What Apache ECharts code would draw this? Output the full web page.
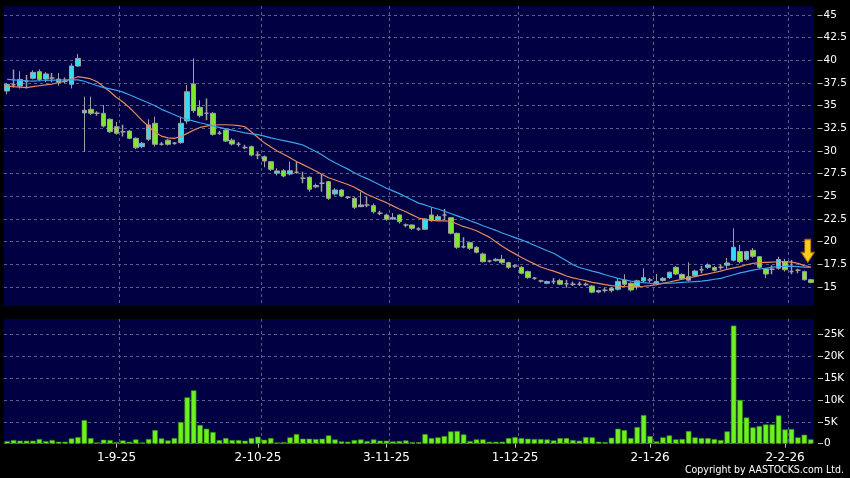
<!DOCTYPE html>
<html>
<head>
<meta charset="utf-8">
<script src="https://cdn.jsdelivr.net/npm/echarts@6/dist/echarts.min.js"></script>
<style>
html, body { margin: 0; padding: 0; background: #000; }
#chart { width: 850px; height: 478px; }
</style>
</head>
<body>
<div id="chart"></div>
<script>
// trading days, d-m-yy
const dates = [
  '7-8-25','8-8-25','11-8-25','12-8-25','13-8-25','14-8-25','15-8-25','18-8-25','19-8-25','20-8-25',
  '21-8-25','22-8-25','25-8-25','26-8-25','27-8-25','28-8-25','29-8-25',
  '1-9-25','2-9-25','3-9-25','4-9-25','5-9-25','8-9-25','9-9-25','10-9-25','11-9-25','12-9-25',
  '15-9-25','16-9-25','17-9-25','18-9-25','19-9-25','22-9-25','23-9-25','24-9-25','25-9-25','26-9-25',
  '29-9-25','30-9-25',
  '2-10-25','3-10-25','6-10-25','8-10-25','9-10-25','10-10-25','13-10-25','14-10-25','15-10-25','16-10-25',
  '17-10-25','20-10-25','21-10-25','22-10-25','23-10-25','24-10-25','27-10-25','28-10-25','30-10-25','31-10-25',
  '3-11-25','4-11-25','5-11-25','6-11-25','7-11-25','10-11-25','11-11-25','12-11-25','13-11-25','14-11-25',
  '17-11-25','18-11-25','19-11-25','20-11-25','21-11-25','24-11-25','25-11-25','26-11-25','27-11-25','28-11-25',
  '1-12-25','2-12-25','3-12-25','4-12-25','5-12-25','8-12-25','9-12-25','10-12-25','11-12-25','12-12-25',
  '15-12-25','16-12-25','17-12-25','18-12-25','19-12-25','22-12-25','23-12-25','24-12-25','29-12-25','30-12-25',
  '31-12-25',
  '2-1-26','5-1-26','6-1-26','7-1-26','8-1-26','9-1-26','12-1-26','13-1-26','14-1-26','15-1-26',
  '16-1-26','19-1-26','20-1-26','21-1-26','22-1-26','23-1-26','26-1-26','27-1-26','28-1-26','29-1-26',
  '30-1-26',
  '2-2-26','3-2-26','4-2-26','5-2-26','6-2-26'
];
const labelDates = ['1-9-25', '2-10-25', '3-11-25', '1-12-25', '2-1-26', '2-2-26'];

const opens = [
  36.62, 37.3, 37.17, 37.7, 38.02, 38.75, 37.94, 38.05, 37.6, 37.7,
  37.36, 39.38, 34.2, 34.6, 34.16, 34.16, 33.5, 32.68, 32.13, 32.2,
  31.4, 30.48, 31.3, 33.06, 30.74, 31.2, 30.85, 30.92, 33.31, 37.39,
  34.82, 34.16, 34.16, 31.95, 32.32, 31.2, 30.74, 30.4, 30.48, 29.56,
  29.37, 28.82, 27.55, 27.83, 27.46, 27.65, 27.0, 27.1, 26.05, 26.44,
  26.62, 25.26, 25.7, 24.89, 24.78, 23.86, 24.05, 23.97, 23.13, 22.94,
  22.5, 22.94, 21.84, 21.84, 21.4, 21.37, 22.94, 22.39, 22.94, 22.64,
  20.92, 19.45, 19.89, 19.38, 18.64, 17.87, 17.9, 18.05, 17.68, 17.32,
  17.17, 16.69, 15.96, 15.66, 15.41, 15.59, 15.7, 15.35, 15.3, 15.3,
  15.28, 15.1, 14.45, 14.63, 14.86, 14.75, 15.77, 15.41, 15.0, 15.66,
  15.77, 15.41, 15.72, 16.03, 17.17, 16.38, 15.75, 16.25, 16.9, 17.17,
  17.15, 17.17, 17.4, 17.95, 18.9, 18.05, 19.05, 18.34, 16.99, 16.95,
  17.06, 17.79, 16.72, 16.84, 16.69, 15.8
];
const closes = [
  37.36, 37.3, 37.9, 37.7, 38.68, 37.9, 38.5, 38.05, 37.94, 37.7,
  39.38, 40.22, 34.5, 34.16, 34.16, 32.76, 32.13, 31.95, 32.13, 31.4,
  30.36, 30.85, 32.87, 30.74, 30.74, 30.74, 30.85, 33.06, 36.54, 34.45,
  33.9, 34.16, 31.84, 31.95, 31.1, 30.77, 30.74, 30.4, 29.56, 29.56,
  28.9, 27.98, 27.8, 27.24, 27.83, 27.65, 27.0, 25.78, 26.2, 26.44,
  24.78, 25.7, 25.04, 24.89, 23.79, 24.05, 24.05, 23.3, 23.13, 22.47,
  22.65, 22.2, 21.84, 21.47, 21.4, 22.5, 22.31, 22.76, 22.94, 20.92,
  19.38, 19.45, 19.27, 18.83, 17.79, 17.87, 18.05, 17.68, 17.17, 17.32,
  16.51, 16.03, 15.96, 15.66, 15.59, 15.59, 15.3, 15.35, 15.3, 15.3,
  15.28, 14.43, 14.6, 14.63, 14.6, 15.62, 15.3, 14.67, 15.68, 16.03,
  15.77, 15.59, 15.96, 16.62, 16.43, 15.92, 16.14, 16.76, 16.9, 17.43,
  16.85, 17.17, 17.65, 19.38, 17.79, 18.9, 18.38, 17.17, 16.43, 16.95,
  18.03, 16.9, 16.72, 16.84, 15.8, 15.5
];
const lows = [
  36.25, 37.0, 36.9, 36.9, 37.9, 37.7, 37.6, 37.6, 37.2, 37.5,
  36.9, 39.3, 29.9, 33.97, 33.9, 32.6, 32.0, 31.8, 31.6, 31.3,
  30.2, 30.3, 31.1, 30.5, 30.6, 30.6, 30.7, 30.8, 33.0, 34.2,
  33.7, 33.4, 31.7, 31.8, 31.0, 30.6, 30.5, 30.2, 29.4, 29.1,
  28.2, 27.8, 27.3, 27.1, 27.3, 27.5, 26.45, 25.5, 25.9, 25.5,
  24.6, 25.1, 24.9, 24.7, 23.6, 23.8, 23.8, 23.1, 22.9, 22.3,
  22.4, 22.0, 21.6, 21.3, 21.2, 21.3, 22.2, 22.3, 22.4, 20.8,
  19.2, 19.27, 19.1, 18.7, 17.7, 17.7, 17.8, 17.5, 17.0, 17.1,
  16.4, 15.9, 15.8, 15.5, 15.3, 15.3, 15.2, 14.9, 15.1, 15.1,
  15.1, 14.3, 14.3, 14.4, 14.4, 14.6, 15.1, 14.5, 14.7, 15.5,
  15.5, 15.2, 15.6, 15.9, 16.3, 15.8, 15.6, 16.1, 16.5, 17.0,
  16.7, 16.9, 17.0, 17.8, 17.6, 17.9, 18.2, 17.0, 15.96, 16.4,
  16.9, 16.7, 16.4, 16.5, 15.7, 15.4
];
const highs = [
  37.5, 39.0, 38.8, 38.4, 38.9, 39.0, 38.7, 38.6, 38.6, 38.1,
  39.67, 40.7, 36.0, 36.0, 34.4, 35.07, 33.6, 33.2, 32.9, 32.3,
  31.5, 31.0, 33.5, 33.8, 31.0, 31.3, 31.0, 33.8, 37.3, 40.22,
  35.6, 35.8, 34.3, 32.2, 32.5, 31.4, 31.0, 30.7, 30.6, 29.9,
  29.5, 28.9, 28.1, 28.0, 28.82, 28.82, 27.7, 27.2, 26.4, 27.46,
  26.7, 25.9, 25.8, 25.0, 24.9, 25.5, 24.96, 24.2, 23.4, 23.1,
  23.16, 23.0, 22.0, 21.9, 21.6, 22.6, 23.8, 23.0, 23.6, 22.7,
  21.0, 20.48, 20.0, 19.5, 18.8, 18.0, 18.2, 18.53, 17.8, 17.5,
  17.3, 16.8, 16.1, 15.8, 15.7, 16.0, 15.9, 15.8, 15.6, 15.6,
  15.5, 15.2, 14.7, 14.9, 15.0, 15.9, 16.4, 15.5, 15.8, 17.06,
  16.0, 16.43, 16.1, 16.7, 17.3, 16.5, 17.72, 16.9, 17.3, 17.6,
  17.3, 17.5, 18.2, 21.47, 19.63, 19.0, 19.3, 18.4, 17.1, 17.4,
  18.34, 18.1, 17.98, 17.0, 16.8, 15.9
];
// volume in thousands
const volumes = [
  0.6, 0.84, 0.69, 0.69, 0.69, 1.07, 0.6, 0.84, 0.46, 0.46,
  1.22, 1.52, 5.4, 1.29, 0.3, 0.91, 0.84, 0.38, 0.76, 0.46,
  0.99, 0.3, 1.07, 3.12, 1.22, 0.76, 1.29, 4.95, 10.6, 12.2,
  4.27, 3.43, 2.67, 0.84, 1.29, 0.84, 0.84, 0.69, 1.29, 1.6,
  0.91, 1.29, 0.3, 0.38, 1.45, 2.2, 1.14, 1.14, 1.07, 1.14,
  1.9, 0.99, 0.53, 0.46, 0.84, 0.99, 0.61, 0.99, 0.69, 0.69,
  0.53, 0.61, 0.76, 0.38, 0.38, 2.2, 1.29, 1.45, 1.75, 2.82,
  2.9, 2.13, 0.61, 0.99, 0.99, 0.46, 0.46, 0.46, 1.29, 1.52,
  1.29, 1.14, 1.07, 1.07, 0.99, 0.76, 1.29, 1.29, 0.84, 0.69,
  1.52, 1.45, 0.46, 0.38, 1.37, 3.43, 3.12, 1.29, 3.81, 6.55,
  1.75, 0.53, 1.45, 1.9, 0.99, 1.07, 2.9, 1.45, 1.29, 1.29,
  1.07, 0.84, 2.82, 27.0, 10.0, 6.0, 3.73, 4.04, 4.42, 4.42,
  6.47, 3.27, 3.35, 1.45, 2.06, 0.99
];
const ma10 = [
  37.17, 37.1, 37.05, 37.0, 37.1, 37.2, 37.3, 37.39, 37.55, 37.7,
  37.95, 38.2, 38.1, 37.95, 37.65, 37.1, 36.54, 35.9, 35.4, 34.8,
  34.1, 33.35, 32.7, 32.05, 31.65, 31.45, 31.4, 31.6, 31.95, 32.3,
  32.6, 32.75, 32.87, 32.9, 32.9, 32.87, 32.8, 32.68, 32.1, 31.5,
  30.9, 30.45, 30.0, 29.65, 29.25, 28.85, 28.5, 28.15, 27.8, 27.4,
  27.05, 26.8, 26.55, 26.3, 26.0, 25.6, 25.2, 24.9, 24.6, 24.3,
  23.95, 23.6, 23.3, 22.95, 22.6, 22.45, 22.35, 22.3, 22.3, 22.25,
  21.95, 21.65, 21.45, 21.2, 20.85, 20.5, 20.0, 19.5, 19.05, 18.65,
  18.25, 17.9, 17.55, 17.2, 16.95, 16.75, 16.5, 16.21, 16.0, 15.85,
  15.7, 15.5, 15.4, 15.25, 15.15, 15.1, 15.05, 15.02, 15.04, 15.08,
  15.15, 15.25, 15.4, 15.55, 15.7, 15.85, 16.0, 16.15, 16.3, 16.45,
  16.6, 16.75, 16.95, 17.1, 17.25, 17.45, 17.6, 17.68, 17.72, 17.75,
  17.78, 17.8, 17.75, 17.6, 17.35, 17.2
];
const ma20 = [
  37.9, 37.85, 37.8, 37.75, 37.72, 37.75, 37.78, 37.82, 37.83, 37.84,
  37.85, 37.85, 37.7, 37.45, 37.2, 37.0, 36.85, 36.7, 36.5, 36.2,
  35.9, 35.6, 35.3, 35.0, 34.6, 34.3, 34.0, 33.7, 33.5, 33.3,
  33.12, 32.95, 32.75, 32.6, 32.45, 32.3, 32.15, 32.0, 31.9, 31.8,
  31.65, 31.45, 31.3, 31.15, 31.0, 30.85, 30.66, 30.3, 29.95, 29.55,
  29.1, 28.7, 28.35, 28.0, 27.6, 27.25, 26.95, 26.6, 26.25, 25.89,
  25.6, 25.3, 24.95, 24.6, 24.25, 24.05, 23.8, 23.6, 23.35, 23.1,
  22.85, 22.6, 22.31, 22.05, 21.75, 21.5, 21.25, 20.95, 20.7, 20.45,
  20.2, 19.9, 19.6, 19.3, 19.0, 18.72, 18.3, 17.9, 17.45, 17.15,
  16.95, 16.75, 16.58, 16.35, 16.15, 15.95, 15.8, 15.65, 15.55, 15.47,
  15.41, 15.37, 15.4, 15.42, 15.45, 15.5, 15.55, 15.6, 15.65, 15.72,
  15.85, 15.95, 16.15, 16.35, 16.55, 16.7, 16.85, 16.98, 17.05, 17.18,
  17.23, 17.27, 17.3, 17.25, 17.18, 17.15
];

const NAVY = '#000042';
const GRIDLINE = '#5c5c8c';
const UP = '#33dcf4';
const DOWN = '#7ee82a';
const WICK = '#a0a0a0';
const FONT = 'DejaVu Sans';

const labelIdx = labelDates.map(d => dates.indexOf(d));
const splitIdx = labelIdx.map(i => i + 1);

const candleData = dates.map((d, i) => {
  const item = { value: [opens[i], closes[i], lows[i], highs[i]] };
  if (opens[i] === closes[i]) {
    item.itemStyle = { color: WICK, color0: WICK, borderColor: WICK, borderColor0: WICK, borderWidth: 1.5 };
  }
  return item;
});

const dash = { color: GRIDLINE, type: [3, 3], width: 1 };
const rightAxis = {
  position: 'right',
  offset: 4,
  axisLine: { show: false },
  axisTick: { show: true, length: 5, lineStyle: { color: '#bbbbbb' } },
  axisLabel: { color: '#ffffff', fontSize: 10.5, fontFamily: FONT, margin: 6 },
  splitLine: { show: true, lineStyle: dash }
};

const chart = echarts.init(document.getElementById('chart'));
chart.setOption({
  animation: false,
  backgroundColor: '#000000',
  title: {
    text: 'Copyright by AASTOCKS.com Ltd.',
    right: 4,
    bottom: 0,
    padding: 2,
    textStyle: {
      color: '#ffffff', fontSize: 10.5, fontWeight: 'normal',
      fontFamily: "'DejaVu Sans Condensed', 'Liberation Sans', sans-serif"
    }
  },
  grid: [
    { left: 4, right: 36, top: 6, height: 300, show: true, backgroundColor: NAVY, borderWidth: 0 },
    { left: 4, right: 36, top: 15.06, height: 271.9 },
    { left: 4, right: 36, top: 319, height: 124.7, show: true, backgroundColor: NAVY, borderWidth: 0 },
    { left: 4, right: 36, top: 334.3, height: 109.4 }
  ],
  xAxis: [
    {
      type: 'category', gridIndex: 0, data: dates,
      axisLine: { show: false }, axisTick: { show: false }, axisLabel: { show: false },
      splitLine: { show: true, showMaxLine: false, interval: (i) => splitIdx.includes(i), lineStyle: dash }
    },
    { type: 'category', gridIndex: 1, data: dates, show: false },
    {
      type: 'category', gridIndex: 2, data: dates, offset: 2,
      axisLine: { show: false },
      axisTick: { show: true, alignWithLabel: true, length: 4, interval: (i) => labelIdx.includes(i), lineStyle: { color: '#bbbbbb' } },
      axisLabel: { show: true, interval: (i) => labelIdx.includes(i), color: '#ffffff', fontSize: 12, fontFamily: FONT, margin: 6 },
      splitLine: { show: true, showMaxLine: false, interval: (i) => splitIdx.includes(i), lineStyle: dash }
    },
    { type: 'category', gridIndex: 3, data: dates, show: false }
  ],
  yAxis: [
    { type: 'value', gridIndex: 0, min: 12.9, max: 46, show: false },
    Object.assign({ type: 'value', gridIndex: 1, min: 15, max: 45, interval: 2.5 }, rightAxis),
    { type: 'value', gridIndex: 2, min: 0, max: 28.5, show: false },
    Object.assign({ type: 'value', gridIndex: 3, min: 0, max: 25, interval: 5 }, rightAxis, {
      axisLabel: Object.assign({}, rightAxis.axisLabel, { formatter: (v) => (v === 0 ? '0' : v + 'K') })
    })
  ],
  series: [
    {
      type: 'candlestick', xAxisIndex: 0, yAxisIndex: 0,
      data: candleData,
      barWidth: 5,
      itemStyle: { color: UP, color0: DOWN, borderColor: WICK, borderColor0: WICK, borderWidth: 1 },
      markPoint: {
        symbol: 'path://M3.5,0 H9.5 V13 H13 L6.5,23 L0,13 H3.5 Z',
        symbolSize: [13, 23],
        symbolOffset: [-3, 0],
        label: { show: false },
        itemStyle: { color: '#ffcc1a', borderColor: '#a87000', borderWidth: 1 },
        data: [{ coord: [dates[dates.length - 1], 18.97] }]
      }
    },
    {
      type: 'line', xAxisIndex: 0, yAxisIndex: 0, data: ma10,
      symbol: 'none', lineStyle: { color: '#e58a5c', width: 1.2 }
    },
    {
      type: 'line', xAxisIndex: 0, yAxisIndex: 0, data: ma20,
      symbol: 'none', lineStyle: { color: '#3aa6ea', width: 1.2 }
    },
    {
      type: 'bar', xAxisIndex: 2, yAxisIndex: 2, data: volumes,
      barWidth: '86%',
      itemStyle: { color: '#6cf020', borderColor: '#2f7f0c', borderWidth: 0.6 }
    }
  ]
});
</script>
</body>
</html>
